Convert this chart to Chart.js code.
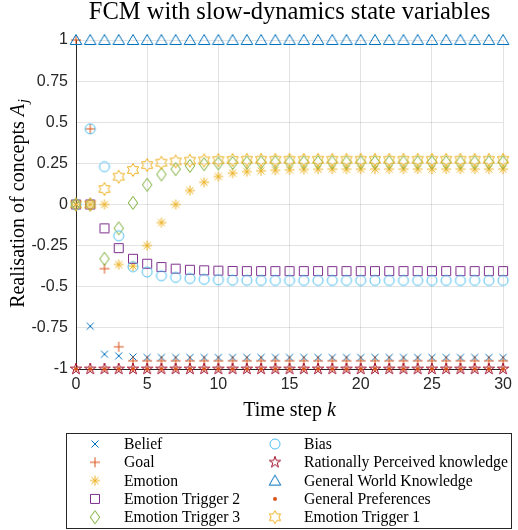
<!DOCTYPE html>
<html>
<head>
<meta charset="utf-8">
<title>FCM with slow-dynamics state variables</title>
<script src="https://cdn.jsdelivr.net/npm/chart.js@4.4.1/dist/chart.umd.min.js"></script>
<style>
  html, body { margin: 0; padding: 0; background: #fff; }
</style>
</head>
<body>
<canvas id="fcmChart" width="518" height="530"></canvas>
<script>
// time axis and values of each concept
const timeSteps = [0, 1, 2, 3, 4, 5, 6, 7, 8, 9, 10, 11, 12, 13, 14, 15, 16, 17, 18, 19, 20, 21, 22, 23, 24, 25, 26, 27, 28, 29, 30];

const belief = [0, -0.74, -0.91, -0.92, -0.927, -0.93, -0.93, -0.93, -0.93, -0.93, -0.93, -0.93, -0.93, -0.93, -0.93, -0.93, -0.93, -0.93, -0.93, -0.93, -0.93, -0.93, -0.93, -0.93, -0.93, -0.93, -0.93, -0.93, -0.93, -0.93, -0.93];
const goal = [1, 0.46, -0.39, -0.865, -0.95, -0.95, -0.95, -0.95, -0.95, -0.95, -0.95, -0.95, -0.95, -0.95, -0.95, -0.95, -0.95, -0.95, -0.95, -0.95, -0.95, -0.95, -0.95, -0.95, -0.95, -0.95, -0.95, -0.95, -0.95, -0.95, -0.95];
const emotion = [0, 0, 0, -0.365, -0.375, -0.25, -0.11, 0, 0.085, 0.135, 0.17, 0.19, 0.2, 0.205, 0.208, 0.211, 0.213, 0.214, 0.215, 0.215, 0.215, 0.215, 0.215, 0.215, 0.215, 0.215, 0.215, 0.215, 0.215, 0.215, 0.215];
const emotionTrigger2 = [0, 0, -0.145, -0.265, -0.33, -0.36, -0.38, -0.39, -0.397, -0.4, -0.402, -0.404, -0.405, -0.405, -0.405, -0.405, -0.405, -0.405, -0.405, -0.405, -0.405, -0.405, -0.405, -0.405, -0.405, -0.405, -0.405, -0.405, -0.405, -0.405, -0.405];
const emotionTrigger3 = [0, 0, -0.33, -0.145, 0.01, 0.12, 0.183, 0.215, 0.235, 0.245, 0.25, 0.253, 0.255, 0.256, 0.257, 0.257, 0.257, 0.257, 0.257, 0.257, 0.257, 0.257, 0.257, 0.257, 0.257, 0.257, 0.257, 0.257, 0.257, 0.257, 0.257];
const bias = [0, 0.46, 0.23, -0.19, -0.378, -0.41, -0.433, -0.443, -0.45, -0.455, -0.458, -0.46, -0.461, -0.462, -0.462, -0.462, -0.462, -0.462, -0.462, -0.462, -0.462, -0.462, -0.462, -0.462, -0.462, -0.462, -0.462, -0.462, -0.462, -0.462, -0.462];
const rationalKnowledge = [-1, -1, -1, -1, -1, -1, -1, -1, -1, -1, -1, -1, -1, -1, -1, -1, -1, -1, -1, -1, -1, -1, -1, -1, -1, -1, -1, -1, -1, -1, -1];
const worldKnowledge = [1, 1, 1, 1, 1, 1, 1, 1, 1, 1, 1, 1, 1, 1, 1, 1, 1, 1, 1, 1, 1, 1, 1, 1, 1, 1, 1, 1, 1, 1, 1];
const preferences = [-1, -1, -1, -1, -1, -1, -1, -1, -1, -1, -1, -1, -1, -1, -1, -1, -1, -1, -1, -1, -1, -1, -1, -1, -1, -1, -1, -1, -1, -1, -1];
const emotionTrigger1 = [0, 0, 0.094, 0.169, 0.21, 0.24, 0.254, 0.262, 0.266, 0.268, 0.27, 0.271, 0.272, 0.272, 0.272, 0.272, 0.272, 0.272, 0.272, 0.272, 0.272, 0.272, 0.272, 0.272, 0.272, 0.272, 0.272, 0.272, 0.272, 0.272, 0.272];

const seriesNames = ['Belief', 'Goal', 'Emotion', 'Emotion Trigger 2', 'Emotion Trigger 3',
  'Bias', 'Rationally Perceived knowledge', 'General World Knowledge', 'General Preferences', 'Emotion Trigger 1'];

const xTickValues = [0, 5, 10, 15, 20, 25, 30];
const yTickValues = [-1, -0.75, -0.5, -0.25, 0, 0.25, 0.5, 0.75, 1];
const yTickLabels = ['-1', '-0.75', '-0.5', '-0.25', '0', '0.25', '0.5', '0.75', '1'];

// matlab-ish markers drawn on small canvases
function makeMarker(kind, color) {
  const s = 18, m = 9;
  const c = document.createElement('canvas');
  c.width = s; c.height = s;
  const g = c.getContext('2d');
  g.strokeStyle = color;
  g.fillStyle = color;
  g.lineWidth = 1;
  g.beginPath();
  if (kind === 'x') {
    g.moveTo(m - 3.5, m - 3.5); g.lineTo(m + 3.5, m + 3.5);
    g.moveTo(m + 3.5, m - 3.5); g.lineTo(m - 3.5, m + 3.5);
  } else if (kind === '+') {
    g.moveTo(m - 5, m); g.lineTo(m + 5, m);
    g.moveTo(m, m - 5); g.lineTo(m, m + 5);
  } else if (kind === '*') {
    g.moveTo(m - 5, m); g.lineTo(m + 5, m);
    g.moveTo(m, m - 5); g.lineTo(m, m + 5);
    g.moveTo(m - 3.5, m - 3.5); g.lineTo(m + 3.5, m + 3.5);
    g.moveTo(m + 3.5, m - 3.5); g.lineTo(m - 3.5, m + 3.5);
  } else if (kind === 's') {
    g.rect(m - 4.5, m - 4.5, 9, 9);
  } else if (kind === 'd') {
    g.moveTo(m, m - 6.5); g.lineTo(m + 4.7, m); g.lineTo(m, m + 6.5); g.lineTo(m - 4.7, m);
    g.closePath();
  } else if (kind === 'o') {
    g.arc(m, m, 5, 0, Math.PI * 2);
  } else if (kind === '^') {
    g.moveTo(m, m - 5.5); g.lineTo(m + 5.8, m + 4.5); g.lineTo(m - 5.8, m + 4.5);
    g.closePath();
  } else if (kind === '.') {
    g.arc(m, m, 2, 0, Math.PI * 2);
    g.fill();
    return c;
  } else if (kind === 'p' || kind === 'h') {
    const n = kind === 'p' ? 5 : 6;
    const R = kind === 'p' ? 6 : 6.5;
    const r = kind === 'p' ? R * 0.382 : R / Math.sqrt(3);
    for (let i = 0; i < 2 * n; i++) {
      const a = -Math.PI / 2 + i * Math.PI / n;
      const rr = i % 2 === 0 ? R : r;
      const px = m + rr * Math.cos(a), py = m + rr * Math.sin(a);
      if (i === 0) g.moveTo(px, py); else g.lineTo(px, py);
    }
    g.closePath();
  }
  g.stroke();
  return c;
}

const seriesValues = [belief, goal, emotion, emotionTrigger2, emotionTrigger3,
  bias, rationalKnowledge, worldKnowledge, preferences, emotionTrigger1];
const seriesColors = ['#0072BD', '#D95319', '#EDB120', '#7E2F8E', '#77AC30',
  '#4DBEEE', '#A2142F', '#0072BD', '#D95319', '#EDB120'];
const seriesMarkers = ['x', '+', '*', 's', 'd', 'o', 'p', '^', '.', 'h'];
const markerImgs = seriesMarkers.map((k, i) => makeMarker(k, seriesColors[i]));

const datasets = seriesNames.map((name, i) => ({
  label: name,
  data: seriesValues[i].map((v, j) => ({ x: timeSteps[j], y: v })),
  showLine: false,
  pointStyle: markerImgs[i],
  pointRadius: 6,
  borderColor: seriesColors[i],
  backgroundColor: seriesColors[i],
  clip: false,
  order: seriesNames.length - i  // later series on top
}));

// title, axis labels and the boxed two-column legend
const decorPlugin = {
  id: 'decor',
  afterDraw(chart) {
    const ctx = chart.ctx;
    const area = chart.chartArea;
    const cx = (area.left + area.right) / 2;
    ctx.save();
    ctx.fillStyle = '#000';
    ctx.textBaseline = 'alphabetic';

    // title
    ctx.font = '24.5px "Liberation Serif"';
    ctx.textAlign = 'center';
    ctx.fillText('FCM with slow-dynamics state variables', cx, 19);

    // x label
    ctx.font = '20px "Liberation Serif"';
    const xa = 'Time step ';
    ctx.textAlign = 'left';
    const w1 = ctx.measureText(xa).width;
    ctx.font = 'italic 20px "Liberation Serif"';
    const w2 = ctx.measureText('k').width;
    let sx = cx - (w1 + w2) / 2;
    ctx.font = '20px "Liberation Serif"';
    ctx.fillText(xa, sx, 416);
    ctx.font = 'italic 20px "Liberation Serif"';
    ctx.fillText('k', sx + w1, 416);

    // y label
    ctx.save();
    ctx.translate(24, 204);
    ctx.rotate(-Math.PI / 2);
    ctx.font = '20px "Liberation Serif"';
    const ya = 'Realisation of concepts ';
    const yw1 = ctx.measureText(ya).width;
    ctx.font = 'italic 20px "Liberation Serif"';
    const yw2 = ctx.measureText('A').width;
    ctx.font = 'italic 14px "Liberation Serif"';
    const yw3 = ctx.measureText('j').width;
    let sy = -(yw1 + yw2 + yw3) / 2;
    ctx.font = '20px "Liberation Serif"';
    ctx.fillText(ya, sy, 0);
    ctx.font = 'italic 20px "Liberation Serif"';
    ctx.fillText('A', sy + yw1, 0);
    ctx.font = 'italic 14px "Liberation Serif"';
    ctx.fillText('j', sy + yw1 + yw2 + 1, 4);
    ctx.restore();

    // legend box
    ctx.fillStyle = '#fff';
    ctx.fillRect(66.5, 433.5, 445, 95);
    ctx.strokeStyle = '#262626';
    ctx.lineWidth = 1;
    ctx.strokeRect(66.5, 433.5, 445, 95);
    ctx.font = '15.7px "Liberation Serif"';
    ctx.fillStyle = '#000';
    ctx.textBaseline = 'middle';
    ctx.textAlign = 'left';
    const rowY = [444, 462.3, 480.6, 498.9, 517.2];
    seriesNames.forEach((name, i) => {
      const col = i < 5 ? 0 : 1;
      const row = i % 5;
      const mx = col === 0 ? 95 : 275;
      const tx = col === 0 ? 124 : 304;
      const img = markerImgs[i];
      ctx.drawImage(img, mx - img.width / 2, rowY[row] - img.height / 2);
      ctx.fillText(name, tx, rowY[row] + 1);
    });
    ctx.restore();
  }
};

const tickFont = { family: '"Liberation Sans", Arial, sans-serif', size: 16 };
const gridColor = 'rgba(38,38,38,0.13)';

new Chart(document.getElementById('fcmChart').getContext('2d'), {
  type: 'scatter',
  data: { datasets: datasets },
  options: {
    responsive: false,
    animation: false,
    events: [],
    layout: { padding: { top: 40, right: 8, bottom: 105, left: 0 } },
    plugins: {
      legend: { display: false },
      title: { display: false },
      tooltip: { enabled: false }
    },
    scales: {
      x: {
        type: 'linear',
        min: 0,
        max: 30,
        afterBuildTicks: s => { s.ticks = xTickValues.map(v => ({ value: v })); },
        ticks: { font: tickFont, color: '#262626', padding: 6, maxRotation: 0, callback: v => String(v) },
        grid: { color: gridColor, drawTicks: false },
        border: { color: '#262626', width: 1 },
        afterFit: s => { s.height = 56; }
      },
      y: {
        type: 'linear',
        min: -1,
        max: 1,
        afterBuildTicks: s => { s.ticks = yTickValues.map(v => ({ value: v })); },
        ticks: {
          font: tickFont, color: '#262626', padding: 8,
          callback: v => yTickLabels[yTickValues.indexOf(v)]
        },
        grid: { color: gridColor, drawTicks: false },
        border: { color: '#262626', width: 1 },
        afterFit: s => { s.width = 76; }
      }
    }
  },
  plugins: [decorPlugin]
});
</script>
</body>
</html>
